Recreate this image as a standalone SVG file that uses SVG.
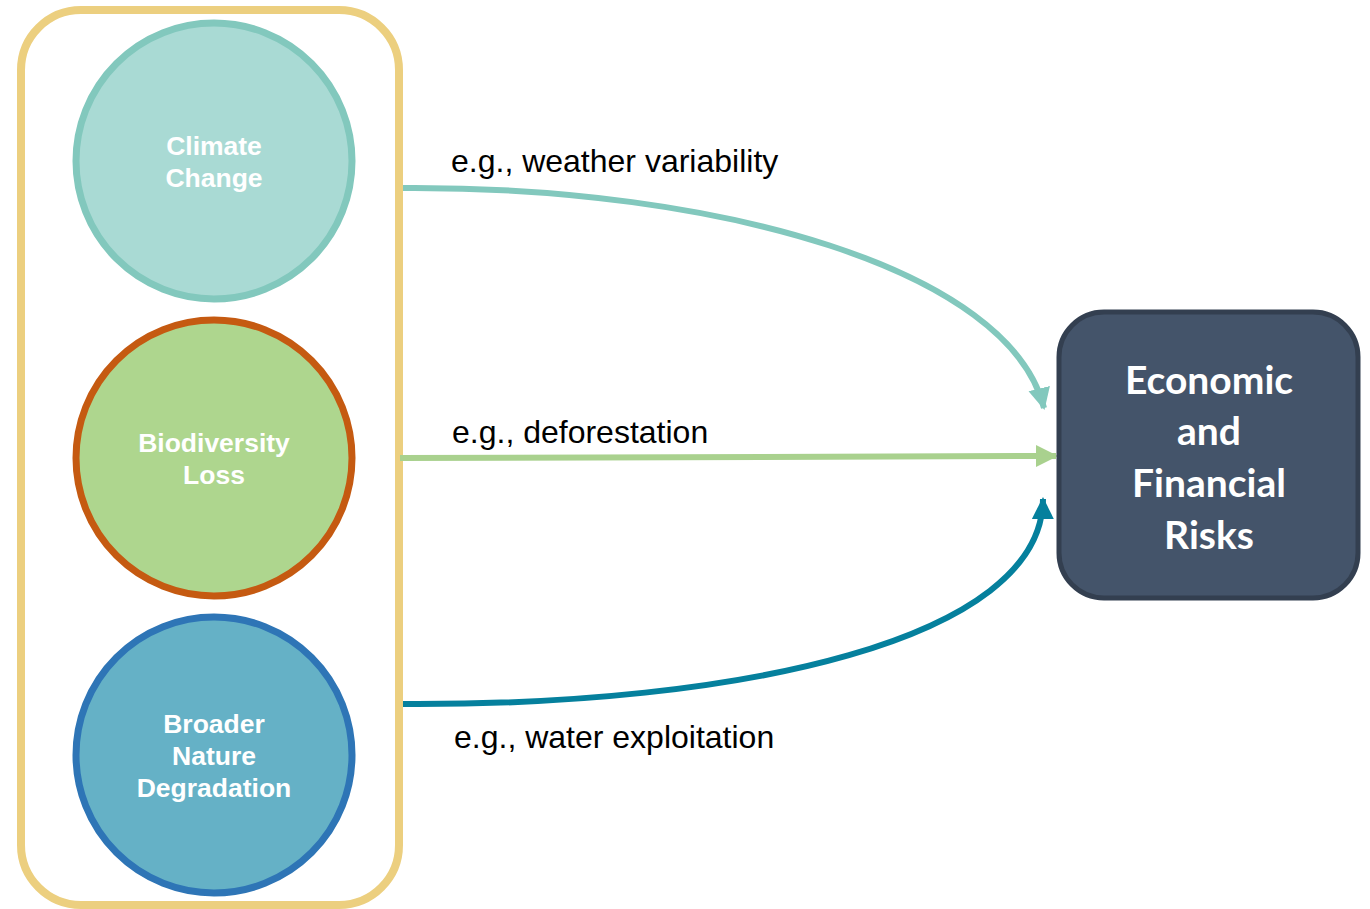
<svg xmlns="http://www.w3.org/2000/svg" width="1370" height="909" viewBox="0 0 1370 909">
<style>
.lbl{font-family:"Liberation Sans",Arial,sans-serif;font-size:32px;fill:#000}
.ct{font-family:"Liberation Sans",Arial,sans-serif;font-size:26.5px;font-weight:bold;fill:#fff;text-anchor:middle}
.et{font-family:Lato,"Open Sans",sans-serif;font-size:39px;font-weight:bold;fill:#fff;text-anchor:middle}
.conn{fill:none;stroke-width:6}
</style>
<defs>
<marker id="ah1" markerUnits="userSpaceOnUse" markerWidth="24" markerHeight="24" refX="20" refY="11" orient="auto"><path d="M0,0 L22,11 L0,22 Z" fill="#82C8BD"/></marker>
<marker id="ah2" markerUnits="userSpaceOnUse" markerWidth="24" markerHeight="24" refX="20" refY="11" orient="auto"><path d="M0,0 L22,11 L0,22 Z" fill="#A9D18E"/></marker>
<marker id="ah3" markerUnits="userSpaceOnUse" markerWidth="24" markerHeight="24" refX="20" refY="11" orient="auto"><path d="M0,0 L22,11 L0,22 Z" fill="#05809D"/></marker>
</defs>
<rect x="0" y="0" width="1370" height="909" fill="#fff"/>
<g id="group-box">
<rect x="21" y="10" width="378" height="895" rx="60" fill="none" stroke="#ECCF7F" stroke-width="8"/>
</g>
<g id="connectors">
<path class="conn" d="M403,188 C720,186 1010,270 1044,408" stroke="#82C8BD" marker-end="url(#ah1)"/>
<path class="conn" d="M400,458 L1056,456" stroke="#A9D18E" marker-end="url(#ah2)"/>
<path class="conn" d="M403,704 C740,706 1042,640 1043,499" stroke="#05809D" marker-end="url(#ah3)"/>
<text class="lbl" x="451" y="172">e.g., weather variability</text>
<text class="lbl" x="452" y="443">e.g., deforestation</text>
<text class="lbl" x="454" y="748">e.g., water exploitation</text>
</g>
<g id="climate-change">
<circle cx="214" cy="161" r="138" fill="#A9DAD4" stroke="#82C8BD" stroke-width="7"/>
<text class="ct" x="214" y="155">Climate</text>
<text class="ct" x="214" y="187">Change</text>
</g>
<g id="biodiversity-loss">
<circle cx="214" cy="458" r="138" fill="#AED68E" stroke="#C55A11" stroke-width="7"/>
<text class="ct" x="214" y="452">Biodiversity</text>
<text class="ct" x="214" y="484">Loss</text>
</g>
<g id="broader-nature">
<circle cx="214" cy="755" r="138" fill="#65B1C6" stroke="#2E75B6" stroke-width="7"/>
<text class="ct" x="214" y="733">Broader</text>
<text class="ct" x="214" y="765">Nature</text>
<text class="ct" x="214" y="797">Degradation</text>
</g>
<g id="economic-risks">
<rect x="1059" y="312" width="299" height="286" rx="45" fill="#44546A" stroke="#333F50" stroke-width="5"/>
<text class="et" x="1209" y="394">Economic</text>
<text class="et" x="1209" y="445">and</text>
<text class="et" x="1209" y="497">Financial</text>
<text class="et" x="1209" y="549">Risks</text>
</g>
</svg>
